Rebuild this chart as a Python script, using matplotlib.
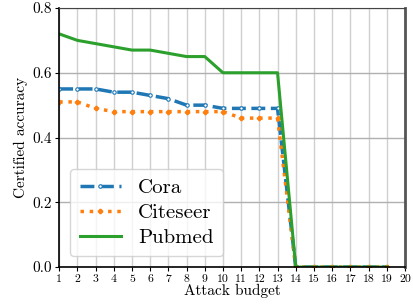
import matplotlib
matplotlib.use("Agg")
import matplotlib.pyplot as plt

plt.rcParams['font.family'] = 'cmr10'
plt.rcParams['mathtext.fontset'] = 'cm'
plt.rcParams['axes.formatter.use_mathtext'] = True

budget = list(range(1, 20))
cora = [0.55, 0.55, 0.55, 0.54, 0.54, 0.53, 0.52, 0.50, 0.50, 0.49,
        0.49, 0.49, 0.49, 0.0, 0.0, 0.0, 0.0, 0.0, 0.0]
citeseer = [0.51, 0.51, 0.49, 0.48, 0.48, 0.48, 0.48, 0.48, 0.48, 0.48,
            0.46, 0.46, 0.46, 0.0, 0.0, 0.0, 0.0, 0.0, 0.0]
pubmed = [0.72, 0.70, 0.69, 0.68, 0.67, 0.67, 0.66, 0.65, 0.65, 0.60,
          0.60, 0.60, 0.60, 0.0, 0.0, 0.0, 0.0, 0.0, 0.0]
xticks = list(range(1, 21))
yticks = [0.0, 0.2, 0.4, 0.6, 0.8]

fig, ax = plt.subplots(figsize=(4.14, 3.07), dpi=100)
fig.subplots_adjust(left=0.143, right=0.978, top=0.974, bottom=0.13)

ax.plot(budget, cora, color='#1f77b4', linestyle='--', linewidth=2.5,
        marker='o', markersize=2.5, markerfacecolor='white', markeredgewidth=0.8,
        dashes=(4, 1.6), label='Cora')
ax.plot(budget, citeseer, color='#ff7f0e', linestyle=':', linewidth=2.5,
        marker='P', markersize=3, label='Citeseer')
ax.plot(budget, pubmed, color='#2ca02c', linestyle='-', linewidth=2.2,
        label='Pubmed')

ax.set_xlim(1, 20)
ax.set_ylim(0, 0.8)
ax.set_xticks(xticks)
ax.set_yticks(yticks)
ax.set_xticklabels([str(t) for t in xticks])
ax.set_yticklabels(['0.0', '0.2', '0.4', '0.6', '0.8'])
ax.tick_params(axis='x', labelsize=8.5, length=3, pad=2)
ax.tick_params(axis='y', labelsize=11, length=3, pad=2)

ax.xaxis.grid(True, color='#d0d0d0', linewidth=1)
ax.yaxis.grid(True, color='#b0b0b0', linewidth=1)
ax.set_axisbelow(True)

ax.spines['right'].set_color('#555555')
ax.spines['right'].set_linewidth(2)
ax.spines['top'].set_color('#444444')
ax.spines['left'].set_linewidth(1.2)
ax.spines['bottom'].set_linewidth(1.2)

ax.set_xlabel('Attack budget', fontsize=11, labelpad=0)
ax.set_ylabel('Certified accuracy', fontsize=11, labelpad=3)

ax.legend(loc='lower left', fontsize=15, bbox_to_anchor=(0.032, 0.042),
          borderaxespad=0, handlelength=2.0, handletextpad=0.8,
          borderpad=0.45, labelspacing=0.3)

plt.savefig('out.png', dpi=100)
